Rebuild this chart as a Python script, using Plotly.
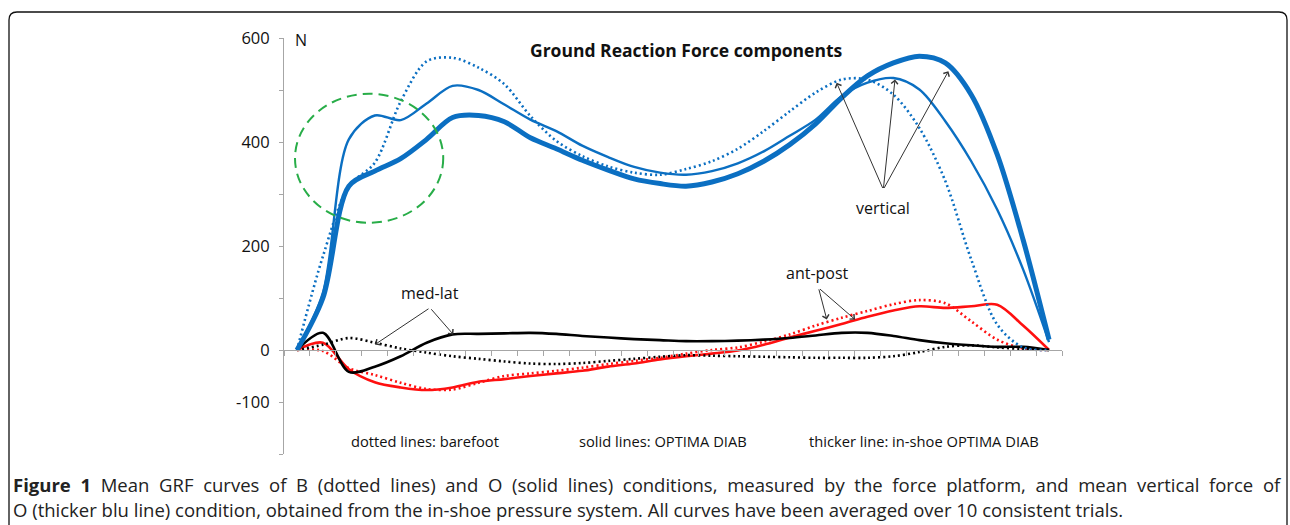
import plotly.graph_objects as go

# ---- data ----
sample = list(range(30))

vert_barefoot = [0, 180, 315, 360, 478, 555, 562, 543, 511, 450, 402, 373, 353, 341, 337, 348, 363, 387, 421, 459,
                 495, 520, 520, 491, 427, 325, 174, 49, 5, 0]
vert_optima = [0, 110, 405, 451, 442, 474, 508, 500, 472, 443, 421, 393, 371, 352, 341, 337, 344, 359, 382, 412,
               443, 488, 514, 523, 501, 440, 363, 270, 155, 15]
vert_inshoe = [0, 100, 315, 344, 368, 405, 447, 451, 439, 408, 387, 365, 346, 329, 320, 315, 323, 339, 363, 395,
               435, 485, 527, 552, 565, 552, 491, 376, 212, 20]
medlat_barefoot = [0, 10, 23, 14, 3, -5, -12, -17, -22, -26, -27, -25, -21, -17, -13, -10, -11, -12, -13, -14,
                   -15, -15, -15, -12, -4, 6, 9, 5, 2, 0]
medlat_optima = [0, 33, -42, -32, -12, 14, 30, 31, 32, 33, 31, 27, 24, 21, 19, 17, 17, 18, 20, 23,
                 28, 33, 33, 27, 19, 13, 9, 6, 6, 0]
antpost_barefoot = [0, -2, -35, -48, -63, -75, -76, -63, -50, -45, -40, -34, -27, -21, -15, -7, 0, 5, 16, 30,
                    47, 62, 75, 88, 96, 90, 55, 20, 3, 0]
antpost_optima = [0, 14, -37, -62, -72, -77, -72, -61, -56, -50, -45, -40, -32, -26, -18, -12, -7, -1, 10, 24,
                  37, 50, 64, 76, 84, 81, 84, 87, 47, 0]

y_tickvals = [-200, -100, 0, 100, 200, 300, 400, 500, 600]
y_ticktext = ["", "-100", "0", "", "200", "", "400", "", "600"]

BLUE = "#0b6fc2"
RED = "#ff1010"
BLACK = "#000000"
DOT = "2px,3px"

W, H = 1290, 525
ML, MR, MT, MB = 284, 228, 38, 71
PW, PH = W - ML - MR, H - MT - MB


def pxx(px):
    return (px - ML) / PW


def pxy(py):
    return (H - MB - py) / PH


fig = go.Figure()

series = [
    (antpost_barefoot, RED, 2.6, DOT),
    (antpost_optima, RED, 2.6, "solid"),
    (medlat_barefoot, BLACK, 2.6, DOT),
    (medlat_optima, BLACK, 2.6, "solid"),
    (vert_barefoot, BLUE, 2.6, DOT),
    (vert_optima, BLUE, 2.4, "solid"),
    (vert_inshoe, BLUE, 5, "solid"),
]
for ys, col, w, dash in series:
    fig.add_trace(go.Scatter(x=sample, y=ys, mode="lines",
                             line=dict(color=col, width=w, dash=dash, shape="spline", smoothing=0.9),
                             hoverinfo="skip"))

FONT = "Open Sans"
annotations = []


def arrow(tail, head):
    annotations.append(dict(x=head[0], y=head[1], ax=tail[0], ay=tail[1], xref="x", yref="y",
                            axref="x", ayref="y", text="", showarrow=True, arrowhead=4,
                            arrowsize=1.3, arrowwidth=1, arrowcolor="#333333", standoff=0, startstandoff=0))


def label(x, y, text, size=16, bold=False):
    annotations.append(dict(x=x, y=y, xref="x", yref="y", text=("<b>%s</b>" % text) if bold else text,
                            showarrow=False, xanchor="center", yanchor="middle",
                            font=dict(family=FONT, size=size, color="#111111")))


label(15.01, 577, "Ground Reaction Force components", size=17.5, bold=True)
annotations.append(dict(x=0.15, y=596, xref="x", yref="y", text="N", showarrow=False,
                        font=dict(family=FONT, size=16, color="#111111")))
label(22.58, 273, "vertical")
label(5.13, 110, "med-lat")
label(20.06, 148.5, "ant-post")
arrow((22.61, 308.7), (20.81, 513.8))
arrow((22.61, 308.7), (23.06, 520.2))
arrow((22.61, 308.7), (25.12, 536.2))
arrow((5.13, 81.2), (3.01, 10.6))
arrow((5.13, 81.2), (6.03, 29.8))
arrow((20.11, 119.6), (20.43, 58.7))
arrow((20.11, 119.6), (21.52, 58.7))
label(4.94, -175, "dotted lines: barefoot", size=14.7)
label(14.12, -175, "solid lines: OPTIMA DIAB", size=14.7)
label(24.18, -175, "thicker line: in-shoe OPTIMA DIAB", size=14.7)

# caption
annotations.append(dict(x=pxx(11), y=pxy(484.5), xref="paper", yref="paper", xanchor="left", yanchor="middle",
                        showarrow=False, align="left",
                        text="<b>Figure 1</b> Mean GRF curves of B (dotted lines) and O (solid lines) conditions, "
                             "measured by the force platform, and mean vertical force of",
                        font=dict(family=FONT, size=18.5, color="#222222")))
annotations.append(dict(x=pxx(11), y=pxy(509), xref="paper", yref="paper", xanchor="left", yanchor="middle",
                        showarrow=False, align="left",
                        text="O (thicker blu line) condition, obtained from the in-shoe pressure system. "
                             "All curves have been averaged over 10 consistent trials.",
                        font=dict(family=FONT, size=18.5, color="#222222")))

# rounded frame
L, T, R, B, r = 9, 12, 1287, 545, 8
path = (f"M {pxx(L)},{pxy(B)} L {pxx(L)},{pxy(T + r)} Q {pxx(L)},{pxy(T)} {pxx(L + r)},{pxy(T)} "
        f"L {pxx(R - r)},{pxy(T)} Q {pxx(R)},{pxy(T)} {pxx(R)},{pxy(T + r)} L {pxx(R)},{pxy(B)}")
shapes = [
    dict(type="path", path=path, xref="paper", yref="paper", line=dict(color="#111111", width=1.3)),
    dict(type="circle", xref="x", yref="y", x0=-0.076, x1=5.64, y0=244.6, y1=492.7,
         line=dict(color="#28ad48", width=2, dash="10px,6px")),
]

fig.update_layout(
    width=W, height=H, margin=dict(l=ML, r=MR, t=MT, b=MB, pad=0),
    paper_bgcolor="white", plot_bgcolor="white", showlegend=False,
    annotations=annotations, shapes=shapes,
    xaxis=dict(range=[-0.5, 29.5], anchor="free", position=0.25, showline=True, linecolor="#a6a6a6",
               linewidth=1, ticks="outside", ticklen=5, tickcolor="#a6a6a6", tick0=-0.5, dtick=1,
               showticklabels=False, showgrid=False, zeroline=False),
    yaxis=dict(range=[-200, 600], showline=True, linecolor="#a6a6a6", linewidth=1, ticks="outside",
               ticklen=4, tickcolor="#a6a6a6", tickvals=y_tickvals, ticktext=y_ticktext,
               tickfont=dict(family=FONT, size=16.5, color="#111111"), showgrid=False, zeroline=False,
               ticklabelstandoff=6),
)

# remove default page margin and justify the first caption line (as in the reference)
post = """
document.body.style.margin = '0';
document.body.style.overflow = 'hidden';
var texts = document.querySelectorAll('.annotation-text');
texts.forEach(function(el) {
  if (el.textContent.indexOf('Figure 1') === 0) {
    var w = el.getBBox().width;
    var n = (el.textContent.match(/ /g) || []).length;
    var extra = (1269 - w) / n;
    if (extra > 0 && extra < 15) { el.style.wordSpacing = extra + 'px'; }
  }
});
"""
fig.write_html("out.html", post_script=post, config={"displayModeBar": False, "staticPlot": True})
